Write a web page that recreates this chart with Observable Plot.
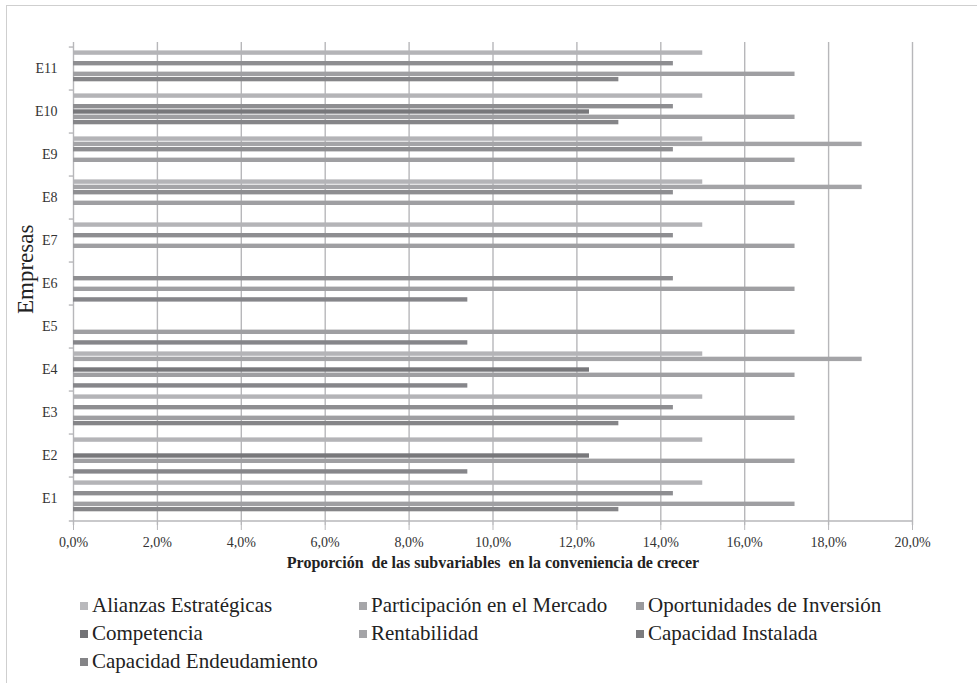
<!DOCTYPE html>
<html>
<head>
<meta charset="utf-8">
<script src="https://cdn.jsdelivr.net/npm/d3@7"></script>
<script src="https://cdn.jsdelivr.net/npm/@observablehq/plot@0.6"></script>
<style>
  html, body { margin: 0; padding: 0; background: #fff; }
  body { width: 977px; height: 683px; position: relative; overflow: hidden; font-family: "Liberation Serif", "Times New Roman", serif; color: #222; }
  #frame { position: absolute; left: 6px; top: 5px; width: 1000px; height: 720px; border-left: 1px solid #cfcfcf; border-top: 1px solid #cfcfcf; }
  #chart { position: absolute; left: 0; top: 0; }
  #legend { position: absolute; left: 0; top: 593px; width: 977px; }
  .item { position: absolute; font-size: 21px; line-height: 24px; white-space: nowrap; font-family: "Liberation Serif", "Times New Roman", serif; }
  .sw { display: inline-block; width: 8px; height: 8px; margin-right: 4px; vertical-align: 2px; }
</style>
</head>
<body>
<div id="frame"></div>
<div id="chart"></div>
<div id="legend"></div>
<script>
// ---- data (percent) ----
const empresas = ["E1","E2","E3","E4","E5","E6","E7","E8","E9","E10","E11"];
const subvariables = ["Alianzas Estratégicas","Participación en el Mercado","Oportunidades de Inversión","Competencia","Rentabilidad","Capacidad Instalada","Capacidad Endeudamiento"];
const alianzas         = [15.0, 15.0, 15.0, 15.0, null, null, 15.0, 15.0, 15.0, 15.0, 15.0];
const participacion    = [null, null, null, 18.8, null, null, null, 18.8, 18.8, null, null];
const oportunidades    = [14.3, null, 14.3, null, null, 14.3, 14.3, 14.3, 14.3, 14.3, 14.3];
const competencia      = [null, 12.3, null, 12.3, null, null, null, null, null, 12.3, null];
const rentabilidad     = [17.2, 17.2, 17.2, 17.2, 17.2, 17.2, 17.2, 17.2, 17.2, 17.2, 17.2];
const capInstalada     = [13.0, null, 13.0, null, null, null, null, null, null, 13.0, 13.0];
const capEndeudamiento = [null, 9.4, null, 9.4, 9.4, 9.4, null, null, null, null, null];
const xTicks = [0, 2, 4, 6, 8, 10, 12, 14, 16, 18, 20];
const xTitle = "Proporción  de las subvariables  en la conveniencia de crecer";
const yTitle = "Empresas";

// ---- styles ----
const colores = ["#b4b4b7", "#a4a4a7", "#8e8e91", "#78787b", "#9f9fa2", "#858588", "#86868a"];
const legendColors = ["#b9b9bc", "#a6a6a9", "#9a9a9d", "#727275", "#a4a4a7", "#7b7b7e", "#848487"];
const font = "'Liberation Serif', 'Times New Roman', serif";
const grid = "#b7b7ba";

const seriesValues = [alianzas, participacion, oportunidades, competencia, rentabilidad, capInstalada, capEndeudamiento];

const W = 977, H = 580, mt = 42, mb = 55, ml = 73, mr = 65;
const band = (H - mt - mb) / empresas.length;
const step = band / 8.28;
const outer = (band - 7 * step) / 2;

const barMarks = subvariables.map((s, i) => {
  const rows = empresas.map((e, j) => ({empresa: e, serie: s, valor: seriesValues[i][j]})).filter(d => d.valor != null);
  const top = outer + i * step;
  const thick = step;
  return Plot.barX(rows, {
    y: "empresa", x: "valor", fill: colores[i],
    insetTop: top, insetBottom: band - top - thick
  });
});

const plot = Plot.plot({
  width: W, height: H,
  marginTop: mt, marginBottom: mb, marginLeft: ml, marginRight: mr,
  style: {fontFamily: font, color: "#222", background: "transparent"},
  x: {domain: [0, 20], label: null},
  y: {domain: empresas.slice().reverse(), padding: 0, label: null},
  marks: [
    Plot.ruleX(xTicks, {stroke: grid, strokeWidth: 1.4}),
    ...barMarks,
    Plot.ruleY(empresas, {y: d => d, x1: -0.1, x2: 0, dy: -band / 2, stroke: grid, strokeWidth: 1.4}),
    Plot.ruleY(["E1"], {y: d => d, x1: -0.1, x2: 20, dy: band / 2, stroke: grid, strokeWidth: 1.4}),
    Plot.axisX({ticks: xTicks, tickSize: 5, tickPadding: 7, stroke: grid, fontSize: 14, fill: "#333", fontFamily: font,
      tickFormat: d => d.toFixed(1).replace(".", ",") + "%", label: null}),
    Plot.axisY({tickSize: 0, tickPadding: 16, fontSize: 14, fill: "#333", fontFamily: font, label: null}),
    Plot.text([xTitle], {frameAnchor: "bottom", dy: 42, fontSize: 16, fontWeight: "bold", fill: "#222", fontFamily: font}),
    Plot.text([yTitle], {frameAnchor: "left", dx: -48, dy: 30, rotate: -90, fontSize: 23, fill: "#222", fontFamily: font})
  ]
});
document.getElementById("chart").appendChild(plot);

// ---- legend ----
const legendPos = [[80, 0], [359, 0], [636, 0], [80, 28], [359, 28], [636, 28], [80, 56]];
const legend = document.getElementById("legend");
subvariables.forEach((s, i) => {
  const div = document.createElement("div");
  div.className = "item";
  div.style.left = legendPos[i][0] + "px";
  div.style.top = legendPos[i][1] + "px";
  const sw = document.createElement("span");
  sw.className = "sw";
  sw.style.background = legendColors[i];
  div.appendChild(sw);
  div.appendChild(document.createTextNode(s));
  legend.appendChild(div);
});
</script>
</body>
</html>
